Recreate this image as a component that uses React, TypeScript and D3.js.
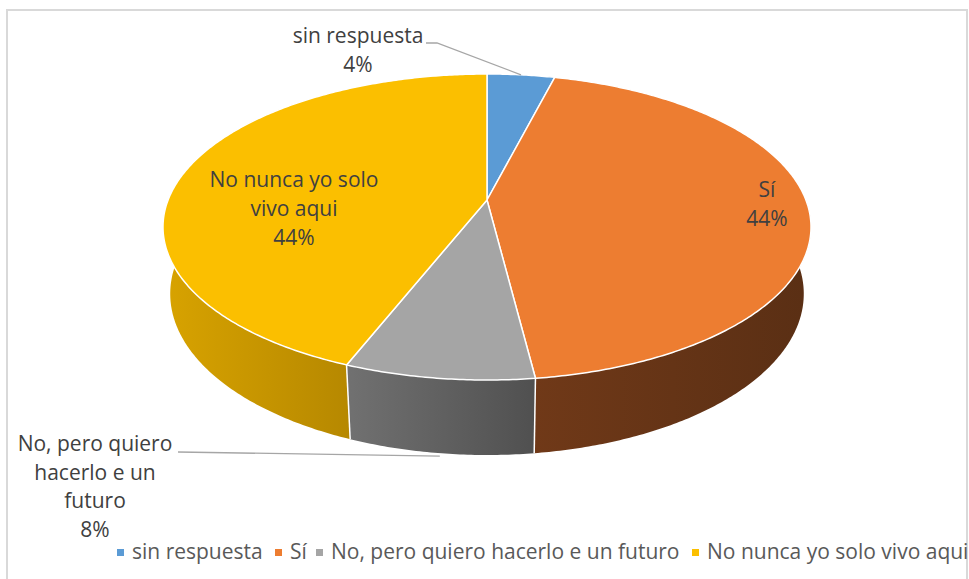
import React from "react";
import * as d3 from "d3";

const categories = [
  "sin respuesta",
  "Sí",
  "No, pero quiero hacerlo e un futuro",
  "No nunca yo solo vivo aqui",
];
const values = [4, 44, 8, 44];
const labelLines = [
  ["sin respuesta"],
  ["Sí"],
  ["No, pero quiero", "hacerlo e un", "futuro"],
  ["No nunca yo solo", "vivo aqui"],
];

const topColors = ["#5B9BD5", "#ED7D31", "#A5A5A5", "#FBBF00"];
const sideColors = [
  ["#4A7FB0", "#3A6590"],
  ["#703918", "#5A2F14"],
  ["#717171", "#505050"],
  ["#D8A300", "#B68800"],
];

// label anchor positions (layout)
const labelPos = [
  { x: 358, y: 43 },
  { x: 767, y: 197 },
  { x: 95, y: 451 },
  { x: 294, y: 187 },
];
const legendX = [117, 275, 316, 692];

const CX = 487, CY = 200, F = 1600, D = 5.017, PHI = (27.7 * Math.PI) / 180, H = 0.2387;
const sN = Math.sin(PHI), cN = Math.cos(PHI);
function proj(X: number, Y: number, Z: number): [number, number] {
  const depth = D + Z * cN - Y * sN;
  return [CX + (F * X) / depth, CY - (F * (Z * sN + Y * cN)) / depth];
}
function rim(t: number, Y: number) {
  return proj(Math.sin(t), Y, Math.cos(t));
}
function arcPts(a0: number, a1: number, Y: number) {
  const n = Math.max(2, Math.ceil(Math.abs(a1 - a0) / 0.01));
  const pts: [number, number][] = [];
  for (let i = 0; i <= n; i++) pts.push(rim(a0 + ((a1 - a0) * i) / n, Y));
  return pts;
}
const line = d3.line();

export default function App() {
  const arcs = d3.pie<number>().sort(null).value((d) => d)(values);
  const total = d3.sum(values);
  const fmt = d3.format(".0%");
  const front0 = Math.PI / 2, front1 = (3 * Math.PI) / 2;

  const walls = arcs.map((a, i) => {
    const a0 = Math.max(a.startAngle, front0);
    const a1 = Math.min(a.endAngle, front1);
    if (a1 <= a0) return null;
    const top = arcPts(a0, a1, 0);
    const bot = arcPts(a1, a0, -H);
    const pts = [...top, ...bot];
    return (
      <path key={"w" + i} d={line(pts) + "Z"} fill={`url(#g${i})`} stroke="none" />
    );
  });

  const edges = arcs
    .map((a) => a.startAngle)
    .filter((t) => t > front0 && t < front1)
    .map((t, i) => {
      const p0 = rim(t, 0), p1 = rim(t, -H);
      return <line key={"e" + i} x1={p0[0]} y1={p0[1]} x2={p1[0]} y2={p1[1]} stroke="#fff" strokeWidth={1.5} />;
    });

  const tops = arcs.map((a, i) => {
    const pts = [proj(0, 0, 0), ...arcPts(a.startAngle, a.endAngle, 0)];
    return (
      <path key={"t" + i} d={line(pts) + "Z"} fill={topColors[i]} stroke="#fff" strokeWidth={1.5} strokeLinejoin="round" />
    );
  });

  const blueMid = (arcs[0].startAngle + arcs[0].endAngle) / 2;
  const grayMid = (arcs[2].startAngle + arcs[2].endAngle) / 2;
  const bEnd = rim(blueMid, 0);
  const gEnd = rim(grayMid, -H);

  const textStyle = { fontFamily: "'Open Sans', sans-serif", fontSize: 21, fill: "#404040" };

  return (
    <svg width={969} height={579} style={{ position: "absolute", left: 0, top: 0 }}>
      <defs>
        {sideColors.map((sc, i) => (
          <linearGradient key={i} id={`g${i}`} x1="0" x2="1" y1="0" y2="0">
            <stop offset="0" stopColor={sc[0]} />
            <stop offset="1" stopColor={sc[1]} />
          </linearGradient>
        ))}
      </defs>
      <rect x={0} y={0} width={969} height={579} fill="#fff" />
      <rect x={7} y={10} width={960} height={600} fill="#fff" stroke="#D9D9D9" strokeWidth={2} />
      {walls}
      {edges}
      {tops}
      <polyline
        points={`426,43 437,43 ${bEnd[0]},${bEnd[1]}`}
        fill="none"
        stroke="#A6A6A6"
        strokeWidth={1.3}
      />
      <polyline
        points={`178,452 ${gEnd[0]},${gEnd[1] + 3}`}
        fill="none"
        stroke="#A6A6A6"
        strokeWidth={1.3}
      />
      {arcs.map((a, i) => {
        const lines = [...labelLines[i], fmt(values[i] / total)];
        const lh = i === 3 ? 29 : 28.5;
        return (
          <text key={"l" + i} textAnchor="middle" style={textStyle}>
            {lines.map((l, j) => (
              <tspan key={j} x={labelPos[i].x} y={labelPos[i].y + j * lh}>
                {l}
              </tspan>
            ))}
          </text>
        );
      })}
      {categories.map((c, i) => (
        <g key={"lg" + i}>
          <rect x={legendX[i]} y={549} width={7} height={7} fill={topColors[i]} />
          <text x={legendX[i] + 15} y={559} style={{ ...textStyle, fill: "#595959" }}>
            {c}
          </text>
        </g>
      ))}
    </svg>
  );
}
